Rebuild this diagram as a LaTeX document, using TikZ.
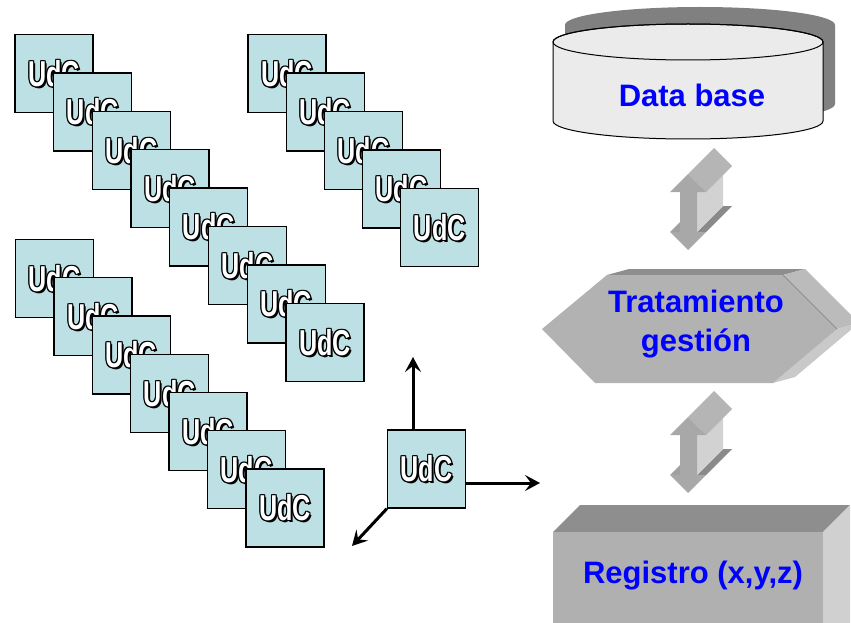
\documentclass[tikz,border=0pt]{standalone}
\usepackage{fontspec}
\setmainfont{Liberation Sans}
\usepackage{graphicx}
\usetikzlibrary{arrows.meta,calc}
\definecolor{udcfill}{RGB}{188,224,228}
\definecolor{dbfill}{RGB}{235,235,235}
\definecolor{dbshadow}{RGB}{128,128,128}
\definecolor{arrfront}{RGB}{168,168,168}
\definecolor{arrside}{RGB}{210,210,210}
\definecolor{arrtop}{RGB}{181,181,181}
\definecolor{arrledge}{RGB}{138,138,138}
\definecolor{arrledgeb}{RGB}{160,160,160}
\definecolor{hexfront}{RGB}{178,178,178}
\definecolor{hextop}{RGB}{142,142,142}
\definecolor{hexsidea}{RGB}{187,187,187}
\definecolor{hexsideb}{RGB}{201,201,201}
\definecolor{boxfront}{RGB}{176,176,176}
\definecolor{boxtop}{RGB}{142,142,142}
\definecolor{boxside}{RGB}{208,208,208}
\tikzset{
  udc/.style={draw=black, line width=1.3pt, fill=udcfill, minimum size=78pt, inner sep=0pt},
  udct/.style={inner sep=0pt, font=\fontsize{36}{36}\selectfont\bfseries},
  lbl/.style={text=blue, font=\fontsize{31}{39}\selectfont\bfseries, inner sep=0pt},
  axisarrow/.style={line width=3pt, -{Stealth[length=15pt,width=16pt,inset=6pt]}},
}
\newcommand\udcbox[3]{%
  \node[udc] (#1) at (#2,#3) {};
  \foreach \ox/\oy in {-1/0,1/0,0/-1,0/1,-1/-1,1/1,2/2,-1/1,1/-1}
    \node[udct,text=black] at ($(#1.center)+(\ox,\oy)$) {\scalebox{0.7}[1]{UdC}};
  \node[udct,text=white] at (#1.center) {\scalebox{0.7}[1]{UdC}};
}
\newcommand\updown[1]{%
  \begin{scope}[shift={(0,#1)}]
    \fill[arrledgeb] (670,232) -- (680,232) -- (706,206) -- (696,206) -- cycle;
    \fill[arrledge] (697,232) -- (706,232) -- (732,206) -- (723,206) -- cycle;
    \fill[arrside] (697,192) -- (697,232) -- (723,206) -- (723,166) -- cycle;
    \fill[arrtop] (688,174) -- (706,192) -- (732,166) -- (714,148) -- cycle;
    \fill[arrfront] (688,174) -- (706,192) -- (697,192) -- (697,232) -- (706,232)
      -- (688,250) -- (670,232) -- (680,232) -- (680,192) -- (670,192) -- cycle;
  \end{scope}}
\begin{document}
\begin{tikzpicture}[x=1pt,y=-1pt]
\useasboundingbox (0,0) rectangle (851,623);
\fill[white] (0,0) rectangle (851,623);
\begin{scope}
\clip (0,0) rectangle (851,623);

% --- UdC groups
\foreach \k in {0,...,7} { \udcbox{a\k}{54+38.7*\k}{73.5+38.4*\k} }
\foreach \k in {0,...,4} { \udcbox{b\k}{287+38.2*\k}{73.5+38.5*\k} }
\foreach \k in {0,...,6} { \udcbox{c\k}{54.5+38.4*\k}{278.5+38.25*\k} }

% --- single UdC with axes
\udcbox{s}{426.5}{469}
\coordinate (ax) at (413,357);
\coordinate (ay) at (540,483);
\coordinate (az) at (352,546);
\draw[axisarrow] (s.north -| ax) -- (ax);
\draw[axisarrow] (s.east |- ay) -- (ay);
\draw[axisarrow] (s.south west) -- (az);

% --- Data base cylinder
\begin{scope}[shift={(12,-17)}]
  \fill[dbshadow] (553,42) -- (553,121)
    .. controls (553,131) and (613.4,139) .. (688,139)
    .. controls (762.6,139) and (823,131) .. (823,121)
    -- (823,42)
    .. controls (823,32) and (762.6,24) .. (688,24)
    .. controls (613.4,24) and (553,32) .. (553,42) -- cycle;
\end{scope}
\filldraw[fill=dbfill, draw=black, line width=1pt] (553,42) -- (553,121)
    .. controls (553,131) and (613.4,139) .. (688,139)
    .. controls (762.6,139) and (823,131) .. (823,121)
    -- (823,42)
    .. controls (823,32) and (762.6,24) .. (688,24)
    .. controls (613.4,24) and (553,32) .. (553,42) -- cycle;
\draw[black, line width=1pt] (688,42) ellipse [x radius=135, y radius=18];
\node[lbl, anchor=base] (db) at (692,107) {Data base};

% --- 3D double arrows
\updown{0}
\updown{243}

% --- Tratamiento hexagon
\fill[hextop] (607,275) -- (783,275) -- (805,269) -- (629,269) -- cycle;
\fill[hexsidea] (783,275) -- (837,329) -- (859,323) -- (805,269) -- cycle;
\fill[hexsideb] (837,329) -- (773,383) -- (795,377) -- (859,323) -- cycle;
\fill[hexfront] (542,329) -- (607,275) -- (783,275) -- (837,329) -- (773,383) -- (595,383) -- cycle;
\draw[hextop, line width=0.8pt] (783,275) -- (837,329);
\node[lbl, align=center] (tg) at (696,324.5) {Tratamiento\\gestión};

% --- Registro box
\fill[boxtop] (553,532) -- (823,532) -- (850,505) -- (580,505) -- cycle;
\fill[boxside] (823,532) -- (850,505) -- (850,640) -- (823,640) -- cycle;
\fill[boxfront] (553,532) rectangle (823,640);
\node[lbl, anchor=base] (reg) at (693,583) {Registro (x,y,z)};
\end{scope}
\end{tikzpicture}
\end{document}
